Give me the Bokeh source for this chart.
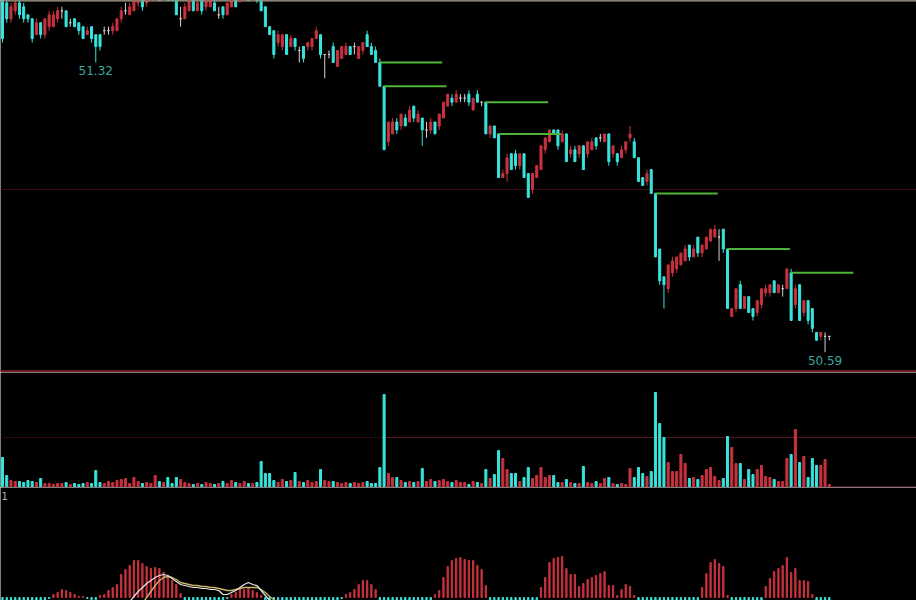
from bokeh.plotting import figure
from bokeh.layouts import column
from bokeh.models import ColumnDataSource, Range1d, Span, Label
from bokeh.core.properties import value
from bokeh.embed import file_html
from bokeh.resources import INLINE

# ---------------- data (1-minute candles) ----------------
opens = [
    51.49, 51.47, 51.43, 51.45, 51.47, 51.46, 51.44, 51.43, 51.39, 51.42,
    51.39, 51.41, 51.41, 51.43, 51.45, 51.45, 51.42, 51.43, 51.42, 51.41,
    51.39, 51.41, 51.39, 51.39, 51.40, 51.40, 51.40, 51.40, 51.43, 51.45,
    51.44, 51.45, 51.47, 51.48, 51.47, 51.49, 51.51, 51.55, 51.53, 51.54,
    51.51, 51.48, 51.43, 51.43, 51.45, 51.48, 51.45, 51.48, 51.46, 51.46,
    51.47, 51.44, 51.46, 51.44, 51.46, 51.48, 51.48, 51.49, 51.51, 51.48,
    51.50, 51.48, 51.46, 51.41, 51.40, 51.37, 51.36, 51.39, 51.36, 51.38,
    51.35, 51.36, 51.36, 51.36, 51.38, 51.39, 51.34, 51.34, 51.36, 51.31,
    51.33, 51.34, 51.36, 51.36, 51.33, 51.35, 51.39, 51.36, 51.35, 51.32,
    51.26, 51.12, 51.14, 51.17, 51.16, 51.18, 51.17, 51.21, 51.17, 51.18,
    51.15, 51.15, 51.17, 51.16, 51.18, 51.21, 51.23, 51.22, 51.23, 51.23,
    51.24, 51.20, 51.24, 51.22, 51.22, 51.14, 51.16, 51.14, 51.03, 51.04,
    51.09, 51.09, 51.06, 51.09, 51.04, 51.00, 51.03, 51.05, 51.10, 51.12,
    51.15, 51.15, 51.12, 51.14, 51.09, 51.10, 51.09, 51.11, 51.09, 51.10,
    51.13, 51.13, 51.12, 51.14, 51.09, 51.09, 51.08, 51.10, 51.13, 51.12,
    51.08, 51.03, 51.02, 51.05, 50.99, 50.85, 50.78, 50.75, 50.79, 50.80,
    50.81, 50.82, 50.86, 50.83, 50.88, 50.84, 50.85, 50.87, 50.88, 50.88,
    50.90, 50.85, 50.68, 50.70, 50.76, 50.70, 50.73, 50.70, 50.69, 50.71,
    50.74, 50.74, 50.77, 50.74, 50.75, 50.75, 50.79, 50.71, 50.76, 50.69,
    50.72, 50.70, 50.64, 50.63, 50.63, 50.63,
]
closes = [
    51.38, 51.43, 51.46, 51.47, 51.44, 51.43, 51.43, 51.38, 51.42, 51.39,
    51.43, 51.44, 51.44, 51.45, 51.45, 51.41, 51.42, 51.41, 51.40, 51.38,
    51.40, 51.38, 51.36, 51.36, 51.40, 51.40, 51.41, 51.43, 51.45, 51.45,
    51.46, 51.48, 51.49, 51.46, 51.50, 51.51, 51.54, 51.51, 51.55, 51.50,
    51.48, 51.44, 51.43, 51.46, 51.48, 51.45, 51.47, 51.45, 51.48, 51.48,
    51.45, 51.44, 51.44, 51.47, 51.48, 51.46, 51.50, 51.51, 51.49, 51.51,
    51.48, 51.45, 51.41, 51.39, 51.34, 51.39, 51.39, 51.34, 51.38, 51.36,
    51.35, 51.33, 51.37, 51.38, 51.40, 51.34, 51.34, 51.34, 51.32, 51.35,
    51.36, 51.36, 51.34, 51.36, 51.36, 51.37, 51.36, 51.34, 51.32, 51.26,
    51.10, 51.17, 51.17, 51.15, 51.19, 51.16, 51.20, 51.18, 51.19, 51.15,
    51.15, 51.17, 51.14, 51.19, 51.22, 51.24, 51.22, 51.24, 51.23, 51.23,
    51.22, 51.23, 51.22, 51.22, 51.14, 51.16, 51.13, 51.03, 51.04, 51.08,
    51.05, 51.06, 51.09, 51.03, 50.98, 51.04, 51.06, 51.11, 51.13, 51.15,
    51.14, 51.11, 51.14, 51.07, 51.10, 51.07, 51.11, 51.05, 51.12, 51.12,
    51.11, 51.13, 51.14, 51.07, 51.11, 51.07, 51.10, 51.12, 51.14, 51.08,
    51.02, 51.01, 51.04, 50.99, 50.83, 50.77, 50.76, 50.81, 50.82, 50.83,
    50.84, 50.85, 50.83, 50.85, 50.84, 50.86, 50.88, 50.90, 50.90, 50.88,
    50.85, 50.70, 50.70, 50.75, 50.70, 50.73, 50.69, 50.68, 50.72, 50.75,
    50.75, 50.76, 50.74, 50.76, 50.75, 50.80, 50.67, 50.75, 50.67, 50.72,
    50.67, 50.65, 50.62, 50.64, 50.63, 50.63,
]
highs = [
    51.50, 51.48, 51.47, 51.48, 51.48, 51.47, 51.44, 51.43, 51.43, 51.42,
    51.43, 51.45, 51.45, 51.46, 51.46, 51.45, 51.43, 51.43, 51.42, 51.41,
    51.41, 51.41, 51.39, 51.39, 51.41, 51.41, 51.42, 51.43, 51.46, 51.47,
    51.47, 51.49, 51.50, 51.49, 51.51, 51.52, 51.55, 51.55, 51.56, 51.55,
    51.52, 51.49, 51.46, 51.47, 51.49, 51.49, 51.48, 51.48, 51.49, 51.49,
    51.48, 51.46, 51.46, 51.47, 51.49, 51.49, 51.50, 51.52, 51.52, 51.51,
    51.51, 51.48, 51.46, 51.41, 51.40, 51.40, 51.39, 51.39, 51.39, 51.38,
    51.36, 51.36, 51.37, 51.38, 51.41, 51.39, 51.34, 51.35, 51.37, 51.35,
    51.36, 51.37, 51.36, 51.37, 51.36, 51.37, 51.40, 51.37, 51.36, 51.33,
    51.26, 51.17, 51.18, 51.18, 51.19, 51.19, 51.21, 51.21, 51.20, 51.18,
    51.17, 51.18, 51.17, 51.19, 51.22, 51.24, 51.24, 51.25, 51.24, 51.24,
    51.25, 51.23, 51.25, 51.22, 51.22, 51.16, 51.16, 51.14, 51.05, 51.09,
    51.09, 51.10, 51.09, 51.09, 51.04, 51.04, 51.06, 51.11, 51.13, 51.15,
    51.15, 51.15, 51.15, 51.14, 51.11, 51.11, 51.11, 51.11, 51.12, 51.13,
    51.13, 51.14, 51.14, 51.14, 51.11, 51.09, 51.11, 51.12, 51.16, 51.13,
    51.08, 51.03, 51.05, 51.05, 50.99, 50.85, 50.78, 50.81, 50.83, 50.83,
    50.84, 50.86, 50.86, 50.86, 50.88, 50.86, 50.88, 50.90, 50.91, 50.90,
    50.90, 50.85, 50.70, 50.75, 50.77, 50.73, 50.73, 50.70, 50.72, 50.75,
    50.76, 50.76, 50.77, 50.76, 50.76, 50.80, 50.80, 50.76, 50.76, 50.72,
    50.72, 50.70, 50.64, 50.64, 50.64, 50.63,
]
lows = [
    51.37, 51.42, 51.42, 51.44, 51.43, 51.42, 51.42, 51.37, 51.39, 51.38,
    51.38, 51.40, 51.41, 51.42, 51.43, 51.41, 51.41, 51.41, 51.39, 51.38,
    51.39, 51.37, 51.32, 51.35, 51.39, 51.39, 51.39, 51.40, 51.42, 51.44,
    51.44, 51.45, 51.46, 51.45, 51.46, 51.49, 51.50, 51.51, 51.52, 51.50,
    51.48, 51.44, 51.41, 51.43, 51.45, 51.45, 51.45, 51.44, 51.45, 51.46,
    51.45, 51.43, 51.43, 51.44, 51.46, 51.46, 51.47, 51.49, 51.49, 51.48,
    51.47, 51.45, 51.41, 51.39, 51.33, 51.36, 51.35, 51.34, 51.36, 51.35,
    51.32, 51.32, 51.35, 51.35, 51.38, 51.33, 51.28, 51.33, 51.32, 51.31,
    51.33, 51.34, 51.34, 51.34, 51.33, 51.34, 51.36, 51.34, 51.32, 51.26,
    51.10, 51.11, 51.14, 51.14, 51.15, 51.16, 51.17, 51.17, 51.17, 51.11,
    51.13, 51.14, 51.14, 51.15, 51.18, 51.21, 51.21, 51.22, 51.22, 51.22,
    51.21, 51.20, 51.22, 51.21, 51.14, 51.13, 51.13, 51.03, 51.03, 51.02,
    51.05, 51.05, 51.05, 51.03, 50.98, 50.99, 51.03, 51.05, 51.09, 51.12,
    51.14, 51.10, 51.12, 51.07, 51.08, 51.07, 51.08, 51.05, 51.08, 51.10,
    51.10, 51.12, 51.12, 51.06, 51.08, 51.06, 51.08, 51.09, 51.12, 51.08,
    51.02, 51.01, 51.01, 50.99, 50.83, 50.76, 50.70, 50.74, 50.78, 50.79,
    50.81, 50.82, 50.82, 50.83, 50.83, 50.83, 50.85, 50.87, 50.88, 50.82,
    50.84, 50.70, 50.68, 50.69, 50.70, 50.70, 50.69, 50.67, 50.68, 50.70,
    50.73, 50.73, 50.74, 50.74, 50.73, 50.75, 50.67, 50.70, 50.67, 50.68,
    50.66, 50.64, 50.62, 50.62, 50.59, 50.62,
]
volumes = [
    2900, 1100, 600, 500, 500, 400, 600, 500, 400, 800,
    300, 300, 200, 300, 300, 400, 200, 300, 200, 300,
    400, 300, 1600, 400, 300, 500, 400, 600, 700, 800,
    300, 900, 500, 300, 400, 300, 1100, 500, 400, 900,
    300, 900, 700, 400, 300, 200, 300, 200, 400, 300,
    200, 300, 500, 300, 600, 400, 300, 500, 300, 300,
    400, 2500, 1300, 1300, 600, 400, 700, 500, 600, 1400,
    500, 400, 600, 400, 500, 1700, 600, 500, 500, 400,
    300, 400, 300, 400, 300, 400, 500, 300, 300, 1900,
    9200, 1300, 900, 900, 600, 400, 500, 400, 500, 1800,
    500, 700, 500, 600, 700, 500, 400, 600, 400, 400,
    200, 500, 400, 300, 1700, 800, 1200, 3600, 2800, 1700,
    1300, 1300, 500, 900, 1900, 800, 1100, 1900, 900, 1100,
    1100, 400, 400, 700, 400, 300, 300, 2000, 400, 300,
    500, 300, 800, 900, 300, 200, 300, 200, 1800, 900,
    1900, 1300, 1000, 1500, 9400, 6300, 4900, 2400, 1500, 1500,
    3200, 2300, 800, 900, 700, 1100, 1700, 1900, 1000, 600,
    800, 5000, 3900, 2300, 2300, 700, 1700, 1200, 1700, 2100,
    1000, 900, 700, 500, 500, 2800, 3200, 5700, 2400, 3000,
    900, 2800, 2100, 2100, 2700, 200,
]
macd_hist = [
    -0.008, -0.010, -0.011, -0.010, -0.009, -0.008, -0.007, -0.006, -0.005, -0.004,
    -0.003, -0.001, 0.003, 0.005, 0.008, 0.007, 0.005, 0.003, 0.001, 0.001,
    -0.001, -0.002, -0.002, 0.002, 0.003, 0.007, 0.010, 0.013, 0.023, 0.028,
    0.032, 0.037, 0.037, 0.034, 0.031, 0.029, 0.030, 0.029, 0.025, 0.020,
    0.017, 0.013, 0.004, -0.003, -0.006, -0.008, -0.009, -0.009, -0.008, -0.007,
    -0.006, -0.005, -0.003, -0.001, 0.003, 0.005, 0.008, 0.008, 0.010, 0.007,
    0.005, 0.002, -0.004, -0.009, -0.014, -0.017, -0.019, -0.020, -0.020, -0.019,
    -0.018, -0.016, -0.014, -0.012, -0.010, -0.009, -0.008, -0.006, -0.005, -0.003,
    -0.001, 0.003, 0.005, 0.008, 0.013, 0.017, 0.017, 0.013, 0.008, -0.006,
    -0.030, -0.045, -0.050, -0.050, -0.048, -0.045, -0.040, -0.035, -0.030, -0.025,
    -0.018, -0.010, 0.003, 0.007, 0.020, 0.031, 0.037, 0.039, 0.040, 0.038,
    0.037, 0.037, 0.032, 0.028, 0.012, -0.003, -0.008, -0.020, -0.028, -0.030,
    -0.030, -0.028, -0.026, -0.024, -0.022, -0.018, -0.008, 0.010, 0.020, 0.035,
    0.039, 0.040, 0.041, 0.029, 0.023, 0.023, 0.011, 0.014, 0.018, 0.020,
    0.022, 0.024, 0.026, 0.012, 0.012, 0.002, 0.008, 0.013, 0.011, 0.002,
    -0.003, -0.008, -0.012, -0.016, -0.040, -0.060, -0.070, -0.068, -0.062, -0.055,
    -0.048, -0.040, -0.032, -0.024, -0.014, 0.010, 0.024, 0.035, 0.038, 0.034,
    0.031, 0.002, -0.020, -0.030, -0.032, -0.030, -0.026, -0.020, -0.012, -0.005,
    0.011, 0.019, 0.026, 0.029, 0.032, 0.040, 0.025, 0.029, 0.017, 0.017,
    0.016, 0.003, -0.004, -0.008, -0.012, -0.014,
]
# DIF / DEA where they rise into the visible part of the MACD pane
line_index = list(range(28, 67))
dif = [
    -0.014, -0.009, -0.004, 0.001, 0.006, 0.010, 0.014, 0.017, 0.020, 0.022,
    0.023, 0.022, 0.019, 0.016, 0.013, 0.012, 0.011, 0.010, 0.010, 0.009,
    0.009, 0.008, 0.008, 0.007, 0.003, 0.003, 0.005, 0.007, 0.010, 0.013,
    0.015, 0.013, 0.012, 0.007, 0.002, -0.003, -0.009, -0.015, -0.021,
]
dea = [
    -0.030, -0.026, -0.022, -0.017, -0.012, -0.006, 0.000, 0.006, 0.012, 0.017,
    0.020, 0.021, 0.020, 0.018, 0.015, 0.014, 0.013, 0.012, 0.012, 0.011,
    0.011, 0.010, 0.010, 0.009, 0.008, 0.007, 0.007, 0.008, 0.009, 0.010,
    0.010, 0.010, 0.010, 0.008, 0.005, 0.001, -0.002, -0.006, -0.012,
]
# big bearish candles whose open is marked by a green line
gap_index = [89, 90, 114, 117, 154, 171, 186]
GAP_SPAN = 14.7
# candles whose low is labelled
label_index = [22, 194]
# volume reference level and the candle from which it is drawn brighter
vol_ref = 4900
vol_ref_from = 90

# ---------------- styling ----------------
W = 916
H_PRICE, H_VOL, H_MACD = 372, 115, 113
PX_PER_BAR = 4.24
UP = "#c9323f"
DOWN = "#38e4dc"
DOJI = "#d2d2d2"
BG = "#000000"

n = len(opens)
idx = list(range(n))
x0 = -2.0 / PX_PER_BAR
x1 = x0 + W / PX_PER_BAR
x_range = Range1d(x0, x1)

cand_col = [DOJI if c == o else (UP if c > o else DOWN) for o, c in zip(opens, closes)]
vol_col = [UP if c >= o else DOWN for o, c in zip(opens, closes)]

src = ColumnDataSource(dict(
    x=idx, open=opens, close=closes, high=highs, low=lows,
    top=[max(o, c) for o, c in zip(opens, closes)],
    bottom=[min(o, c) for o, c in zip(opens, closes)],
    color=cand_col, vol=volumes, vcolor=vol_col,
    hist=macd_hist,
    hcolor=[UP if h >= 0 else DOWN for h in macd_hist],
))


def base_fig(h, yr):
    p = figure(width=W, height=h, x_range=x_range, y_range=yr,
               x_axis_type=None, y_axis_type=None,
               output_backend="svg", toolbar_location=None,
               background_fill_color=BG, border_fill_color=BG,
               outline_line_color=None, min_border=0)
    p.grid.visible = False
    return p


# ---- price pane ----
y_top = 51.476
y_bot = y_top - H_PRICE / 397.0
p1 = base_fig(H_PRICE, Range1d(y_bot, y_top))
p1.add_layout(Span(location=51.00, dimension="width", line_color="#3e0c12", line_width=1, level="underlay"))
p1.add_layout(Span(location=y_top - 0.6 / 397.0, dimension="width", line_color="#9a8a6c", line_width=1))
p1.add_layout(Span(location=y_bot + 1.5 / 397.0, dimension="width", line_color="#701c25", line_width=2))

p1.segment(x0="x", y0="high", x1="x", y1="low", color="color", line_width=1, source=src)
p1.vbar(x="x", top="top", bottom="bottom", width=0.48, fill_color="color",
        line_color="color", line_width=1, source=src)

gap_src = ColumnDataSource(dict(
    x0=gap_index, x1=[g + GAP_SPAN for g in gap_index],
    y=[opens[g] for g in gap_index]))
p1.segment(x0="x0", y0="y", x1="x1", y1="y", line_color="#4fb33a", line_width=2, source=gap_src)

lab_src = ColumnDataSource(dict(
    x=label_index, y=[lows[i] for i in label_index],
    t=["%.2f" % lows[i] for i in label_index]))
p1.text(x="x", y="y", text="t", source=lab_src, text_align="center", text_baseline="top",
        y_offset=4, text_color="#38a89f", text_font=value("DejaVu Sans"), text_font_size="12px")

# ---- volume pane ----
p2 = base_fig(H_VOL, Range1d(-100, 11400))
p2.segment(x0=[x0], y0=[vol_ref], x1=[vol_ref_from], y1=[vol_ref], line_color="#2c0a0e", line_width=1,
           level="underlay")
p2.segment(x0=[vol_ref_from], y0=[vol_ref], x1=[x1], y1=[vol_ref], line_color="#5a141b", line_width=1,
           level="underlay")
p2.add_layout(Span(location=-40, dimension="width", line_color="#621820", line_width=1.5, level="underlay"))
p2.vbar(x="x", top="vol", bottom=0, width=0.48, fill_color="vcolor", line_color="vcolor",
        line_width=1, source=src)

# ---- MACD pane ----
p3 = base_fig(H_MACD, Range1d(-0.003, 0.110))
p3.vbar(x="x", top="hist", bottom=0, width=0.3, fill_color="hcolor", line_color="hcolor",
        line_width=1, source=src)
p3.line(line_index, dea, line_color="#c9b46a", line_width=1.3)
p3.line(line_index, dif, line_color="#e6e6e6", line_width=1.2)
p3.add_layout(Label(x=1, y=H_MACD - 4, x_units="screen", y_units="screen", text="1",
                    text_color="#b0b0b0", text_font_size="10px", text_baseline="top",
                    text_font="DejaVu Sans"))

layout = column(p1, p2, p3, spacing=0)
open("out.html", "w").write(file_html(layout, INLINE))
